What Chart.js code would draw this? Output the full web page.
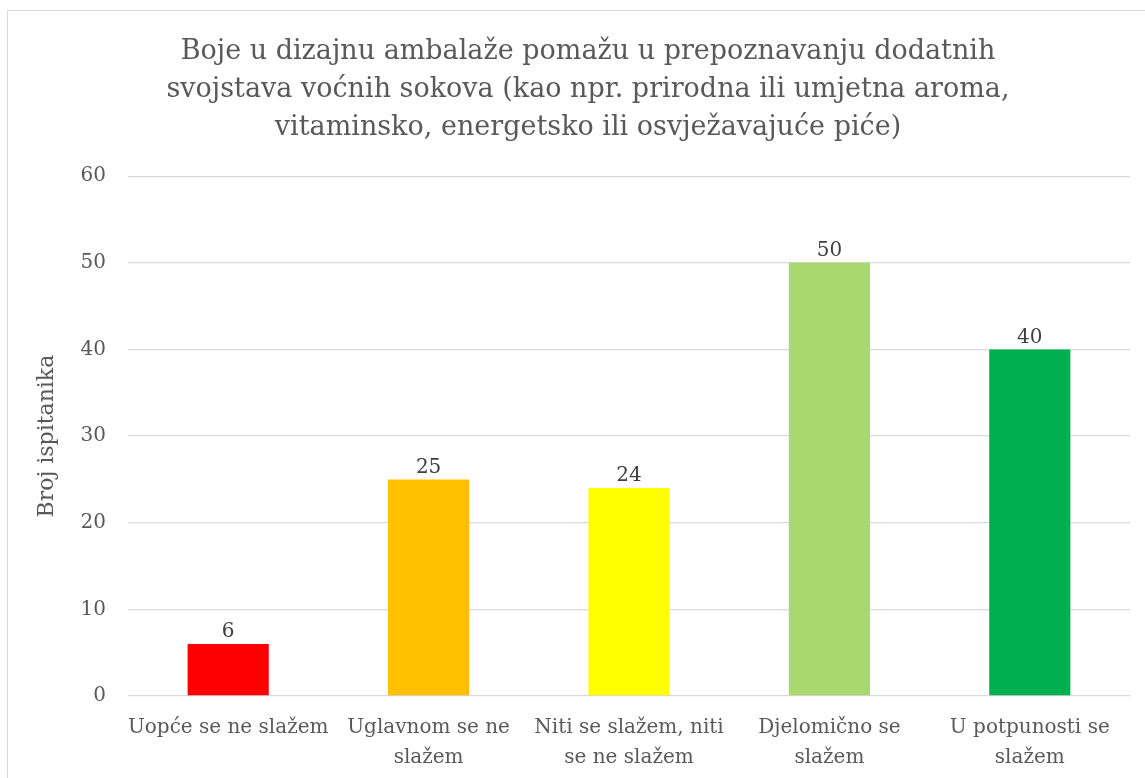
<!DOCTYPE html>
<html>
<head>
<meta charset="utf-8">
<script src="https://cdn.jsdelivr.net/npm/chart.js@4"></script>
<style>
    body { margin: 0; background: #ffffff; overflow: hidden; }
    #frame {
        position: absolute; left: 7px; top: 10px;
        width: 1170px; height: 790px;
        border: 1px solid #d9d9d9; box-sizing: border-box;
    }
    #wrap { position: absolute; left: 0; top: 0; width: 1176px; height: 778px; }
</style>
</head>
<body>
<div id="frame"></div>
<div id="wrap"><canvas id="chart"></canvas></div>
<script>
// Chart data
const categories = [
    ['Uopće se ne slažem'],
    ['Uglavnom se ne', 'slažem'],
    ['Niti se slažem, niti', 'se ne slažem'],
    ['Djelomično se', 'slažem'],
    ['U potpunosti se', 'slažem']
];
const counts = [6, 25, 24, 50, 40];
const barColors = ['#ff0000', '#ffc000', '#ffff00', '#a9d86e', '#00b050'];
const titleLines = [
    'Boje u dizajnu ambalaže pomažu u prepoznavanju dodatnih',
    'svojstava voćnih sokova (kao npr. prirodna ili umjetna aroma,',
    'vitaminsko, energetsko ili osvježavajuće piće)'
];
const yTitle = 'Broj ispitanika';

const fontFamily = '"DejaVu Serif", serif';
const textColor = '#595959';

// Value labels above each bar
const valueLabels = {
    id: 'valueLabels',
    afterDatasetsDraw(chart) {
        const ctx = chart.ctx;
        const meta = chart.getDatasetMeta(0);
        ctx.save();
        ctx.font = '20px ' + fontFamily;
        ctx.fillStyle = '#404040';
        ctx.textAlign = 'center';
        ctx.textBaseline = 'bottom';
        meta.data.forEach((bar, i) => {
            ctx.fillText(counts[i], bar.x, bar.y - 2);
        });
        ctx.restore();
    }
};

const ctx = document.getElementById('chart').getContext('2d');
new Chart(ctx, {
    type: 'bar',
    data: {
        labels: categories,
        datasets: [{
            data: counts,
            backgroundColor: barColors,
            borderWidth: 0,
            categoryPercentage: 1,
            barPercentage: 0.405
        }]
    },
    options: {
        responsive: true,
        maintainAspectRatio: false,
        animation: false,
        layout: {
            padding: { left: 0, right: 0, top: 0, bottom: 0 }
        },
        plugins: {
            legend: { display: false },
            tooltip: { enabled: false },
            title: {
                display: true,
                text: titleLines,
                color: textColor,
                font: { family: fontFamily, size: 27, weight: 'normal', lineHeight: 1.41 },
                padding: { top: 33, bottom: 29 }
            }
        },
        scales: {
            x: {
                grid: { display: false },
                border: { display: false },
                ticks: {
                    color: textColor,
                    font: { family: fontFamily, size: 20, lineHeight: 1.5 },
                    padding: 9,
                    maxRotation: 0,
                    autoSkip: false
                },
                afterFit(scale) { scale.height = 82; }
            },
            y: {
                min: 0,
                max: 60,
                ticks: {
                    stepSize: 10,
                    color: textColor,
                    font: { family: fontFamily, size: 20 },
                    padding: 22
                },
                grid: { color: '#d9d9d9', lineWidth: 1.3, drawTicks: false },
                border: { display: false },
                title: {
                    display: true,
                    text: yTitle,
                    color: textColor,
                    font: { family: fontFamily, size: 22 },
                    padding: { top: 34, bottom: 0 }
                },
                afterFit(scale) { scale.width = 128; }
            },
            // empty right margin so the title centres over the whole frame
            yRight: {
                position: 'right',
                min: 0,
                max: 60,
                grid: { display: false },
                border: { display: false },
                ticks: { display: false },
                afterFit(scale) { scale.width = 46; }
            }
        }
    },
    plugins: [valueLabels]
});
</script>
</body>
</html>
